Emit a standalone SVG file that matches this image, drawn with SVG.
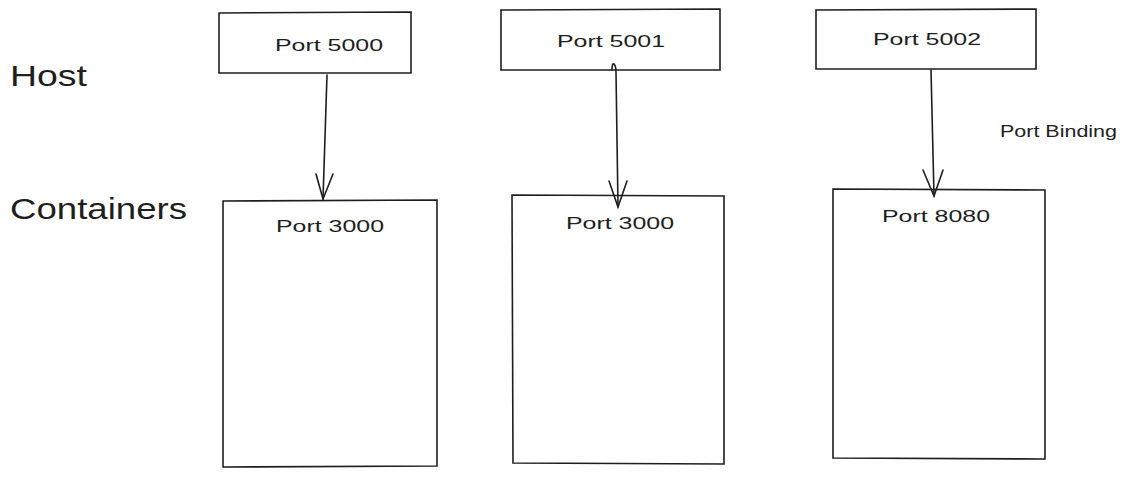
<svg xmlns="http://www.w3.org/2000/svg" width="1128" height="482" viewBox="0 0 1128 482">
<style>
.box{fill:#ffffff;stroke:#1e1e1e;stroke-width:1.6}
.lbl{font-family:"Liberation Sans",Arial,sans-serif;fill:#1e1e1e;font-size:17px}
.big{font-family:"Liberation Sans",Arial,sans-serif;fill:#1e1e1e;font-size:30px}
.edge{fill:none;stroke:#1e1e1e;stroke-width:1.6;stroke-linecap:round}
</style>
<rect width="1128" height="482" fill="#ffffff"/>
<text class="big" x="10" y="86" textLength="77" lengthAdjust="spacingAndGlyphs">Host</text>
<text class="big" x="10" y="219" textLength="177" lengthAdjust="spacingAndGlyphs">Containers</text>
<g id="host5000"><path class="box" d="M219 13 L411 12 L411 73 L219 73 Z"/><text class="lbl" x="275" y="51" textLength="108" lengthAdjust="spacingAndGlyphs">Port 5000</text></g>
<g id="host5001"><path class="box" d="M501 10 L720 9 L720 70 L501 70 Z"/><text class="lbl" x="557" y="47" textLength="108" lengthAdjust="spacingAndGlyphs">Port 5001</text></g>
<g id="host5002"><path class="box" d="M816 10 L1036 9 L1036 69 L816 69 Z"/><text class="lbl" x="873" y="45" textLength="108" lengthAdjust="spacingAndGlyphs">Port 5002</text></g>
<g id="cont1"><path class="box" d="M223 201 L437 200 L437 466 L223 467 Z"/><text class="lbl" x="276" y="232" textLength="108" lengthAdjust="spacingAndGlyphs">Port 3000</text></g>
<g id="cont2"><path class="box" d="M512 195 L724 196 L724 464 L513 463 Z"/><text class="lbl" x="566" y="229" textLength="108" lengthAdjust="spacingAndGlyphs">Port 3000</text></g>
<g id="cont3"><path class="box" d="M833 189 L1045 190 L1045 459 L833 458 Z"/><text class="lbl" x="882" y="222" textLength="108" lengthAdjust="spacingAndGlyphs">Port 8080</text></g>
<text class="lbl" x="1000" y="137" font-size="15" textLength="117" lengthAdjust="spacingAndGlyphs">Port Binding</text>
<g id="connectors">
<path class="edge" d="M327 75 L323 199"/>
<path class="edge" d="M316 174 L323 199 L333 174"/>
<path class="edge" d="M612 70 Q612 63 614 64 Q616 66 616 72 L618 207"/>
<path class="edge" d="M609 181 L618 207 L627 181"/>
<path class="edge" d="M931 70 L934 196"/>
<path class="edge" d="M923 170 L934 196 L943 170"/>
</g>
</svg>
